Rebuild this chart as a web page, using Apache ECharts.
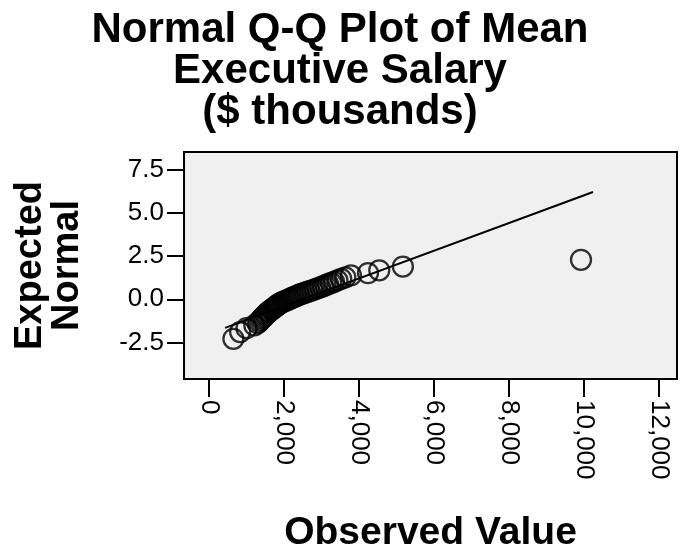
<!DOCTYPE html>
<html>
<head>
<meta charset="utf-8">
<script src="https://cdn.jsdelivr.net/npm/echarts@6/dist/echarts.min.js"></script>
<style>
  html, body { margin: 0; padding: 0; background: #fff; }
  #qq { width: 692px; height: 554px; }
</style>
</head>
<body>
<div id="qq"></div>
<script>
// Observed mean executive salary ($ thousands), sorted
var observedValues = [650, 830, 1000, 1210, 1300, 1340, 1385, 1420, 1455, 1490,
    1515, 1545, 1580, 1615, 1650, 1685, 1715, 1750, 1775, 1805,
    1835, 1865, 1895, 1940, 1990, 2040, 2085, 2135, 2180, 2230,
    2275, 2325, 2375, 2420, 2485, 2550, 2615, 2680, 2750, 2820,
    2890, 2965, 3035, 3105, 3175, 3255, 3335, 3425, 3525, 3635,
    3785, 4240, 4540, 5170, 9920];

// Expected normal value for each observation
var expectedNormal = [-2.28, -1.89, -1.67, -1.51, -1.38, -1.27, -1.18, -1.09, -1.01, -0.94,
    -0.87, -0.81, -0.74, -0.69, -0.63, -0.57, -0.52, -0.47, -0.42, -0.37,
    -0.32, -0.28, -0.23, -0.18, -0.14, -0.09, -0.05, 0.0, 0.05, 0.09,
    0.14, 0.18, 0.23, 0.28, 0.32, 0.37, 0.42, 0.47, 0.52, 0.57,
    0.63, 0.69, 0.74, 0.81, 0.87, 0.94, 1.01, 1.09, 1.18, 1.27,
    1.38, 1.51, 1.67, 1.89, 2.28];

// reference line ends
var lineX = [430, 10240];
var lineY = [-1.65, 6.19];

var xTicks = [0, 2000, 4000, 6000, 8000, 10000, 12000];
var yTicks = [-2.5, 0.0, 2.5, 5.0, 7.5];

var fontFam = 'Liberation Sans, Arial, sans-serif';

var chart = echarts.init(document.getElementById('qq'));

var points = observedValues.map(function (v, i) {
    return [v, expectedNormal[i]];
});
var refLine = lineX.map(function (v, i) {
    return [v, lineY[i]];
});

var option = {
    backgroundColor: '#fff',
    animation: false,

    // Title
    title: {
        text: 'Normal Q-Q Plot of Mean\nExecutive Salary\n($ thousands)',
        left: 335,
        top: 5,
        textAlign: 'center',
        textStyle: {
            fontFamily: fontFam,
            fontSize: 42,
            fontWeight: 'bold',
            lineHeight: 41,
            color: '#000'
        }
    },

    grid: {
        left: 184,
        right: 15,
        top: 152,
        bottom: 172,
        show: true,
        backgroundColor: '#f0f0f0',
        borderColor: '#000',
        borderWidth: 2
    },

    xAxis: {
        type: 'value',
        min: -667,
        max: 12480,
        name: 'Observed Value',
        nameLocation: 'middle',
        nameGap: 135,
        nameTextStyle: {
            fontFamily: fontFam,
            fontSize: 39,
            fontWeight: 'bold',
            color: '#000'
        },
        axisLine: { show: true, onZero: false, lineStyle: { color: '#000', width: 2 } },
        axisTick: {
            show: true,
            length: 18,
            customValues: xTicks,
            lineStyle: { color: '#000', width: 2 }
        },
        axisLabel: {
            customValues: xTicks,
            rotate: -90,
            margin: 21,
            fontFamily: fontFam,
            fontSize: 26,
            color: '#000',
            formatter: function (v) {
                return v.toLocaleString('en-US');
            }
        },
        splitLine: { show: false }
    },

    yAxis: {
        type: 'value',
        min: -4.6,
        max: 8.5,
        name: 'Expected\nNormal',
        nameLocation: 'middle',
        nameRotate: 90,
        nameGap: 98,
        nameTextStyle: {
            fontFamily: fontFam,
            fontSize: 38,
            fontWeight: 'bold',
            lineHeight: 37,
            color: '#000'
        },
        axisLine: { show: true, onZero: false, lineStyle: { color: '#000', width: 2 } },
        axisTick: {
            show: true,
            length: 17,
            customValues: yTicks,
            lineStyle: { color: '#000', width: 2 }
        },
        axisLabel: {
            customValues: yTicks,
            margin: 20,
            fontFamily: fontFam,
            fontSize: 26,
            color: '#000',
            formatter: function (v) {
                return v.toFixed(1);
            }
        },
        splitLine: { show: false }
    },

    series: [{
        name: 'Reference',
        type: 'line',
        data: refLine,
        showSymbol: false,
        silent: true,
        lineStyle: { color: '#000', width: 2 },
        z: 2
    }, {
        name: 'Salary',
        type: 'scatter',
        data: points,
        symbol: 'circle',
        symbolSize: 20,
        itemStyle: {
            color: 'rgba(0,0,0,0)',
            borderColor: '#000',
            borderWidth: 2.3
        },
        z: 3
    }]
};

chart.setOption(option);
</script>
</body>
</html>
